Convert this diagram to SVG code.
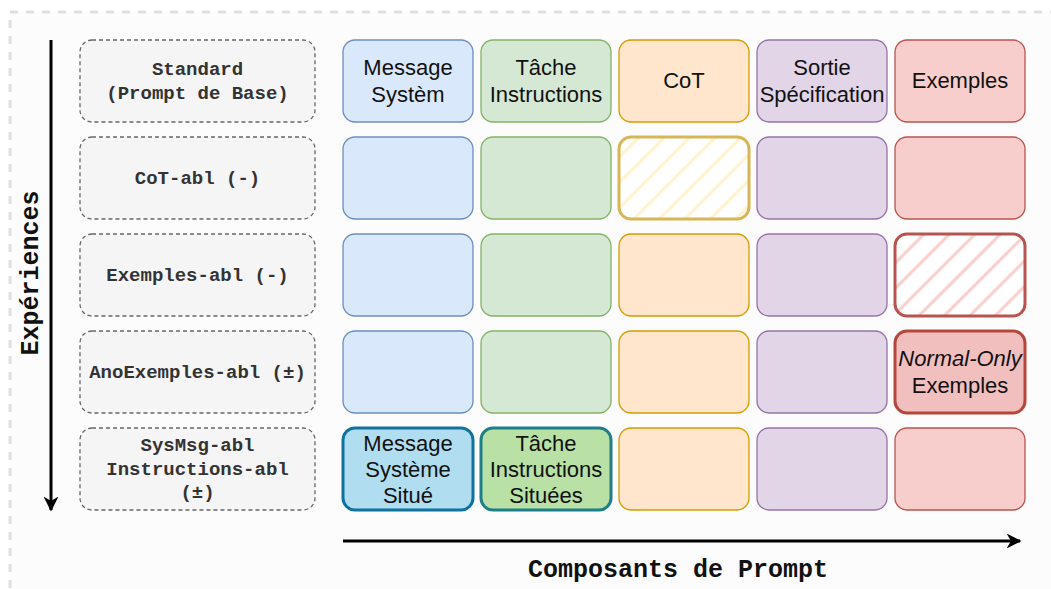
<svg xmlns="http://www.w3.org/2000/svg" width="1051" height="589" viewBox="0 0 1051 589">
<style>
.lbl rect{fill:#f5f5f5;stroke:#666;stroke-width:1.3;stroke-dasharray:4 3}
.lbl text{font-family:"Liberation Mono",monospace;font-weight:bold;font-size:19px;fill:#333;text-anchor:middle}
.c text{font-family:"Liberation Sans",Arial,sans-serif;font-size:22px;fill:#111;text-anchor:middle}
.ax{font-family:"Liberation Mono",monospace;font-weight:bold;font-size:25px;fill:#111;text-anchor:middle}
.b rect{fill:#dae8fc;stroke:#6c8ebf;stroke-width:1.3}
.g rect{fill:#d5e8d4;stroke:#82b366;stroke-width:1.3}
.o rect{fill:#ffe6cc;stroke:#d79b00;stroke-width:1.3}
.p rect{fill:#e1d5e7;stroke:#9673a6;stroke-width:1.3}
.r rect{fill:#f8cecc;stroke:#b85450;stroke-width:1.3}
</style>
<defs>
<pattern id="hy" patternUnits="userSpaceOnUse" width="18" height="18" patternTransform="rotate(45)">
<rect width="18" height="18" fill="#fff"/>
<line x1="9" y1="0" x2="9" y2="18" stroke="#fff2cc" stroke-width="3"/>
</pattern>
<pattern id="hr" patternUnits="userSpaceOnUse" width="18" height="18" patternTransform="rotate(45)">
<rect width="18" height="18" fill="#fff"/>
<line x1="9" y1="0" x2="9" y2="18" stroke="#f8cecc" stroke-width="3"/>
</pattern>
<marker id="ah" viewBox="0 0 10 10" refX="9" refY="5" markerWidth="5" markerHeight="5" orient="auto" markerUnits="strokeWidth">
<path d="M0,0 L10,5 L0,10 L3,5 Z" fill="#000"/>
</marker>
</defs>
<rect x="10" y="12" width="1100" height="700" fill="#fcfcfc" stroke="#e0e0e0" stroke-width="3" stroke-dasharray="8 8"/>

<g id="connectors">
<line x1="51" y1="40" x2="51" y2="510" stroke="#000" stroke-width="3" marker-end="url(#ah)"/>
<line x1="343" y1="541" x2="1020" y2="541" stroke="#000" stroke-width="3" marker-end="url(#ah)"/>
</g>

<text class="ax" transform="translate(38,273) rotate(-90)">Expériences</text>
<text class="ax" x="678" y="577">Composants de Prompt</text>

<g id="lbl-standard" class="lbl"><rect x="80" y="40" width="235" height="82" rx="12"/><text x="197.5" y="74.5">Standard</text><text x="197.5" y="98.5">(Prompt de Base)</text></g>
<g id="lbl-cot" class="lbl"><rect x="80" y="137" width="235" height="82" rx="12"/><text x="197.5" y="184">CoT-abl (-)</text></g>
<g id="lbl-exemples" class="lbl"><rect x="80" y="234" width="235" height="82" rx="12"/><text x="197.5" y="281">Exemples-abl (-)</text></g>
<g id="lbl-anoexemples" class="lbl"><rect x="80" y="331" width="235" height="82" rx="12"/><text x="197.5" y="378">AnoExemples-abl (±)</text></g>
<g id="lbl-sysmsg" class="lbl"><rect x="80" y="428" width="235" height="82" rx="12"/><text x="197.5" y="451">SysMsg-abl</text><text x="197.5" y="475">Instructions-abl</text><text x="197.5" y="498">(±)</text></g>

<g id="r1-sys" class="c b"><rect x="343" y="40" width="130" height="82" rx="12"/><text x="408" y="75">Message</text><text x="408" y="102">Systèm</text></g>
<g id="r1-task" class="c g"><rect x="481" y="40" width="130" height="82" rx="12"/><text x="546" y="75">Tâche</text><text x="546" y="102">Instructions</text></g>
<g id="r1-cot" class="c o"><rect x="619" y="40" width="130" height="82" rx="12"/><text x="684" y="88">CoT</text></g>
<g id="r1-out" class="c p"><rect x="757" y="40" width="130" height="82" rx="12"/><text x="822" y="75">Sortie</text><text x="822" y="102">Spécification</text></g>
<g id="r1-ex" class="c r"><rect x="895" y="40" width="130" height="82" rx="12"/><text x="960" y="88">Exemples</text></g>

<g id="r2-sys" class="b"><rect x="343" y="137" width="130" height="82" rx="12"/></g>
<g id="r2-task" class="g"><rect x="481" y="137" width="130" height="82" rx="12"/></g>
<g id="r2-cot"><rect x="619" y="137" width="130" height="82" rx="12" fill="url(#hy)" stroke="#d6b656" stroke-width="3"/></g>
<g id="r2-out" class="p"><rect x="757" y="137" width="130" height="82" rx="12"/></g>
<g id="r2-ex" class="r"><rect x="895" y="137" width="130" height="82" rx="12"/></g>

<g id="r3-sys" class="b"><rect x="343" y="234" width="130" height="82" rx="12"/></g>
<g id="r3-task" class="g"><rect x="481" y="234" width="130" height="82" rx="12"/></g>
<g id="r3-cot" class="o"><rect x="619" y="234" width="130" height="82" rx="12"/></g>
<g id="r3-out" class="p"><rect x="757" y="234" width="130" height="82" rx="12"/></g>
<g id="r3-ex"><rect x="895" y="234" width="130" height="82" rx="12" fill="url(#hr)" stroke="#b85450" stroke-width="3"/></g>

<g id="r4-sys" class="b"><rect x="343" y="331" width="130" height="82" rx="12"/></g>
<g id="r4-task" class="g"><rect x="481" y="331" width="130" height="82" rx="12"/></g>
<g id="r4-cot" class="o"><rect x="619" y="331" width="130" height="82" rx="12"/></g>
<g id="r4-out" class="p"><rect x="757" y="331" width="130" height="82" rx="12"/></g>
<g id="r4-ex" class="c"><rect x="895" y="331" width="130" height="82" rx="12" fill="#f2bfbf" stroke="#b5463c" stroke-width="3"/><text x="960" y="366" font-style="italic">Normal-Only</text><text x="960" y="393">Exemples</text></g>

<g id="r5-sys" class="c"><rect x="343" y="428" width="130" height="82" rx="12" fill="#b1ddf0" stroke="#10739e" stroke-width="3"/><text x="408" y="451">Message</text><text x="408" y="477">Système</text><text x="408" y="503">Situé</text></g>
<g id="r5-task" class="c"><rect x="481" y="428" width="130" height="82" rx="12" fill="#b9e0a5" stroke="#1f7f88" stroke-width="3"/><text x="546" y="451">Tâche</text><text x="546" y="477">Instructions</text><text x="546" y="503">Situées</text></g>
<g id="r5-cot" class="o"><rect x="619" y="428" width="130" height="82" rx="12"/></g>
<g id="r5-out" class="p"><rect x="757" y="428" width="130" height="82" rx="12"/></g>
<g id="r5-ex" class="r"><rect x="895" y="428" width="130" height="82" rx="12"/></g>
</svg>
